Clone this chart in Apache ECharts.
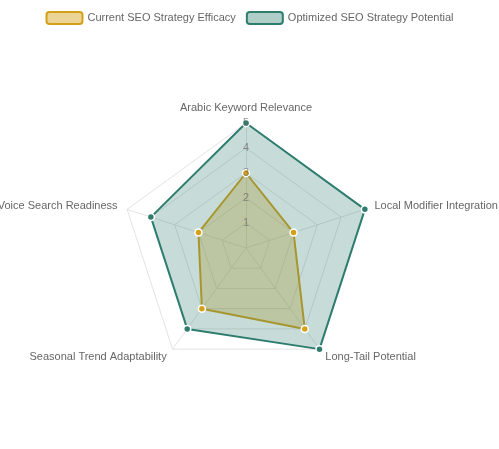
<!DOCTYPE html>
<html>
<head>
<meta charset="utf-8">
<script src="https://cdn.jsdelivr.net/npm/echarts@6/dist/echarts.min.js"></script>
<style>html,body{margin:0;padding:0;background:#fff}#c{width:499px;height:449px}</style>
</head>
<body>
<div id="c"></div>
<script>
var indicators = ['Arabic Keyword Relevance', 'Local Modifier Integration', 'Long-Tail Potential', 'Seasonal Trend Adaptability', 'Voice Search Readiness'];
var currentVals = [3, 2, 4, 3, 2];
var optimizedVals = [5, 5, 5, 4, 4];
var maxVal = 5;

// echarts radar runs counterclockwise; reorder so axes go clockwise
function cw(arr) { return [arr[0]].concat(arr.slice(1).reverse()); }

var chart = echarts.init(document.getElementById('c'));
chart.setOption({
    animation: false,
    legend: {
        top: 6,
        itemWidth: 36,
        itemHeight: 12,
        itemGap: 10,
        textStyle: { color: '#666', fontSize: 11, fontFamily: 'Arial, Liberation Sans' },
        data: [
            { name: 'Current SEO Strategy Efficacy', itemStyle: { color: 'rgba(212,160,23,0.45)', borderColor: '#d4a017', borderWidth: 2 } },
            { name: 'Optimized SEO Strategy Potential', itemStyle: { color: 'rgba(46,125,111,0.38)', borderColor: '#2e7d6f', borderWidth: 2 } }
        ]
    },
    radar: {
        center: [246, 248],
        radius: 125,
        startAngle: 90,
        splitNumber: 5,
        indicator: cw(indicators).map(function(n) {
            return { name: n, max: maxVal, min: 0 };
        }),
        axisName: { color: '#666', fontSize: 11, fontFamily: 'Arial, Liberation Sans' },
        nameGap: 10,
        splitLine: { lineStyle: { color: '#e3e3e3' } },
        splitArea: { show: false },
        axisLine: { lineStyle: { color: '#e3e3e3' } },
        axisLabel: { show: false }
    },
    series: [{
        type: 'radar',
        data: [{
            name: 'Current SEO Strategy Efficacy',
            value: cw(currentVals),
            symbol: 'circle',
            symbolSize: 7,
            itemStyle: { color: '#d4a017', borderColor: '#fff', borderWidth: 1.5 },
            lineStyle: { color: '#d4a017', width: 2 },
            areaStyle: { color: 'rgba(212,160,23,0.45)' }
        }, {
            name: 'Optimized SEO Strategy Potential',
            value: cw(optimizedVals),
            symbol: 'circle',
            symbolSize: 7,
            itemStyle: { color: '#2e7d6f', borderColor: '#fff', borderWidth: 1.5 },
            lineStyle: { color: '#2e7d6f', width: 2 },
            areaStyle: { color: 'rgba(46,125,111,0.38)' }
        }]
    }],
    graphic: [1, 2, 3, 4, 5].map(function(v) {
        return {
            type: 'text',
            x: 246, y: 248 - v * 25,
            z: 100,
            style: { text: String(v), fill: 'rgba(102,102,102,0.7)', fontSize: 11, align: 'center', verticalAlign: 'middle', fontFamily: 'Arial' }
        };
    })
});
</script>
</body>
</html>
